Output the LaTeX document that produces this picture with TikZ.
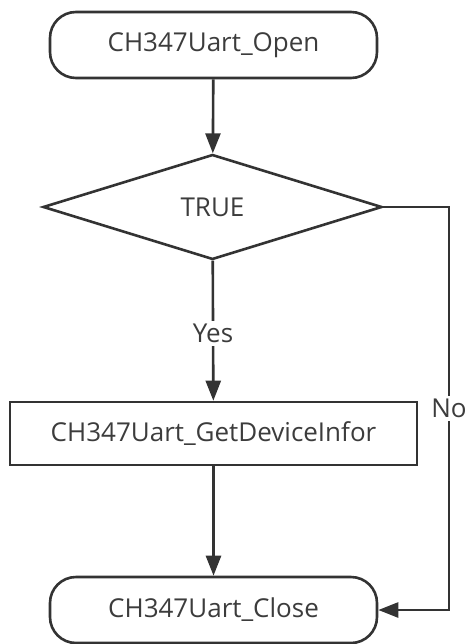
\documentclass[tikz,border=0pt]{standalone}
\usepackage{fontspec}
\setmainfont{Open Sans}
\usetikzlibrary{shapes.geometric,arrows.meta}
\definecolor{ink}{HTML}{333333}
\definecolor{txt}{HTML}{3C3C3C}
\begin{document}
\begin{tikzpicture}[x=1pt,y=-1pt,
  base/.style={draw=ink,line width=2.6pt,text=txt,font=\fontsize{26}{30}\selectfont,inner sep=0pt},
  term/.style={base,rounded corners=26pt,minimum width=327pt,minimum height=66pt},
  proc/.style={base,minimum width=407pt,minimum height=63pt},
  decide/.style={base,diamond,aspect=3.23,minimum width=339pt,minimum height=105pt},
  flow/.style={draw=ink,line width=2.6pt,-{Triangle[length=20pt,width=15pt]}},
  lbl/.style={text=txt,font=\fontsize{26}{30}\selectfont,fill=white,inner sep=3pt}]
\useasboundingbox (0,0) rectangle (469,644);
\node[term]   (open)  at (213.5,45)  {CH347Uart\_Open};
\node[decide] (cond)  at (212.5,207) {TRUE};
\node[proc]   (info)  at (213.5,433.5) {CH347Uart\_GetDeviceInfor};
\node[term]   (close) at (213.5,610) {CH347Uart\_Close};
\coordinate (c1) at (449,207);
\coordinate (c2) at (449,610);
\draw[flow] (open) -- (cond);
\draw[flow] (cond) -- node[lbl,pos=0.52] {Yes} (info);
\draw[flow] (info) -- (close);
\draw[flow] (cond.east) -- (c1) -- node[lbl,pos=0.5] {No} (c2) -- (close.east);
\end{tikzpicture}
\end{document}
